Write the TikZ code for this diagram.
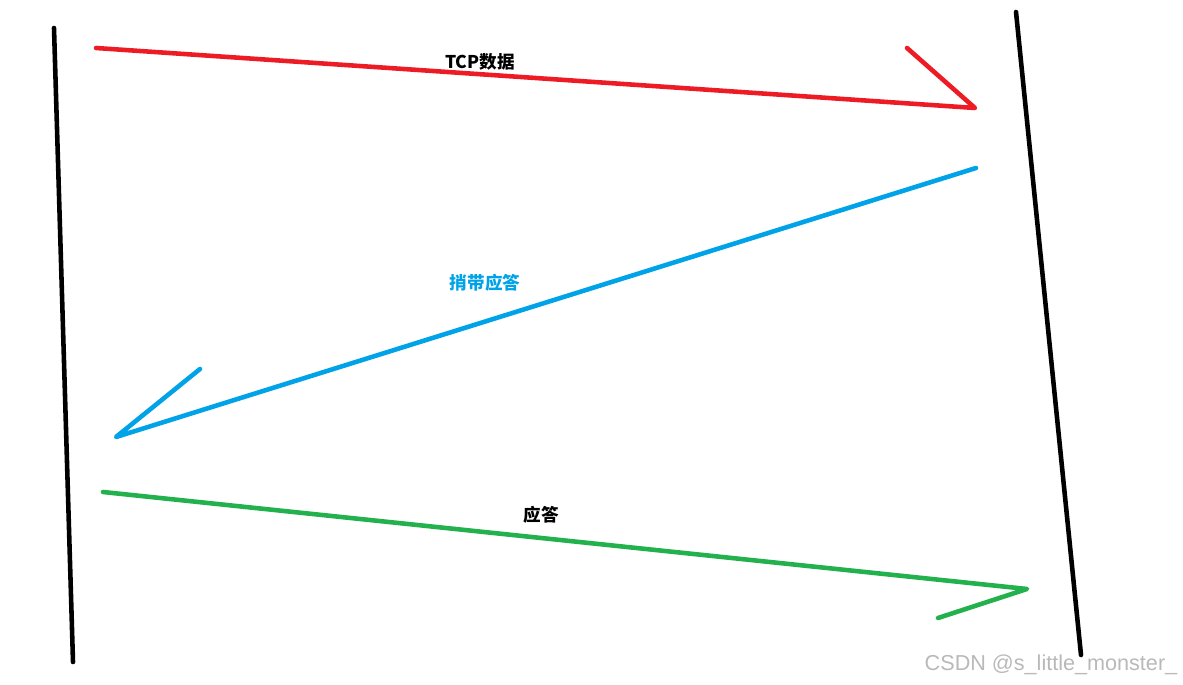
\documentclass[tikz,border=0pt]{standalone}
\usepackage{fontspec}
\setmainfont{Liberation Sans}
\newfontfamily\cjk{Noto Sans CJK SC}
\definecolor{paintred}{RGB}{237,28,36}
\definecolor{paintblue}{RGB}{0,162,232}
\definecolor{paintgreen}{RGB}{34,177,76}
\definecolor{markgray}{RGB}{185,185,185}
\tikzset{
	trait/.style={line width=2.6pt, line cap=round, line join=round},
	etiquette/.style={font=\cjk\bfseries\fontsize{10}{12}\selectfont}
}

\begin{document}
\begin{tikzpicture}[x=0.02cm,y=-0.02cm]
	\useasboundingbox (0,0) rectangle (1183,685);
	% les deux hôtes
	\coordinate (G1) at (54,28);
	\coordinate (G2) at (73,662);
	\coordinate (D1) at (1016,12);
	\coordinate (D2) at (1081,655);
	% extremites des segments
	\coordinate (R1) at (96,48);
	\coordinate (R2) at (975,108);
	\coordinate (R3) at (907,48);
	\coordinate (B1) at (976,168);
	\coordinate (B2) at (116,437);
	\coordinate (B3) at (200,369);
	\coordinate (V1) at (103,492);
	\coordinate (V2) at (1027,589);
	\coordinate (V3) at (938,618);
	% textes
	\node (T1) at (480,62) [etiquette] {TCP数据};
	\node (T2) at (485,283) [etiquette, text=paintblue] {捎带应答};
	\node (T3) at (541,515) [etiquette] {应答};
	\node (W) at (1051,665) [text=markgray, font=\fontsize{12.3}{14}\selectfont] {CSDN @s\_little\_monster\_};
	\draw[trait, black] (G1) -- (G2);
	\draw[trait, black] (D1) -- (D2);
	\draw[trait, paintred] (R1) -- (R2) -- (R3);
	\draw[trait, paintblue] (B1) -- (B2) -- (B3);
	\draw[trait, paintgreen] (V1) -- (V2) -- (V3);
\end{tikzpicture}
\end{document}
